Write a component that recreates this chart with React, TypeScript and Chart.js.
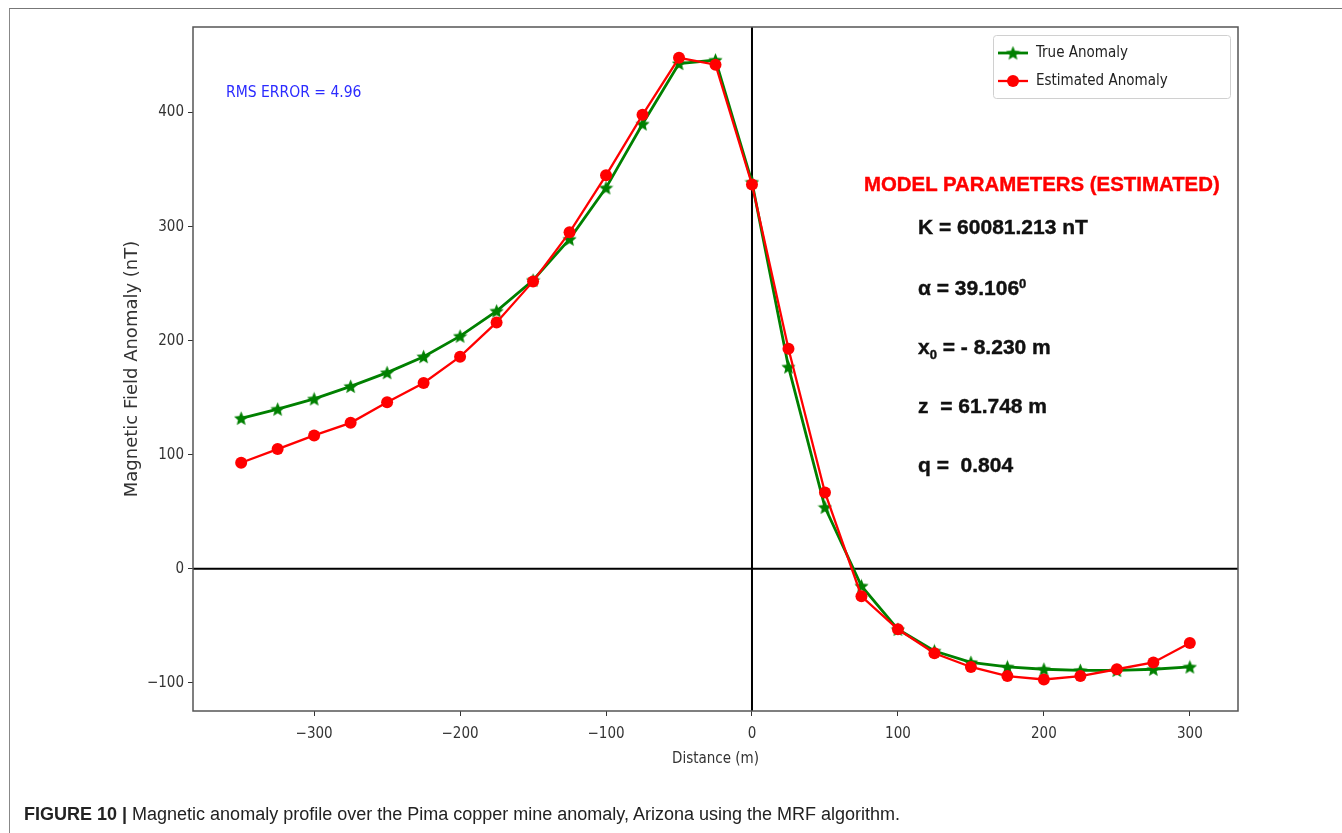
import React, { useEffect, useRef } from "react";
import { Chart, registerables } from "chart.js";

Chart.register(...registerables);

// ---------- data ----------
const distances = [
  -350, -325, -300, -275, -250, -225, -200, -175, -150, -125, -100, -75, -50, -25,
  0, 25, 50, 75, 100, 125, 150, 175, 200, 225, 250, 275, 300,
];
const trueAnomaly = [
  132, 140, 149, 160, 172, 186, 204, 226, 253, 289, 334, 390, 443, 446,
  339, 177, 54, -15, -53, -72, -82, -86, -88, -89, -89, -88, -86,
];
const estimatedAnomaly = [
  93, 105, 117, 128, 146, 163, 186, 216, 252, 295, 345, 398, 448, 442,
  337, 193, 67, -24, -53, -74, -86, -94, -97, -94, -88, -82, -65,
];
const xTicks = [-300, -200, -100, 0, 100, 200, 300];
const yTicks = [-100, 0, 100, 200, 300, 400];
const seriesLabels = ["True Anomaly", "Estimated Anomaly"];
const seriesColors = ["#008000", "#ff0000"];
const xRange = [-383, 333];
const yRange = [-124.6, 475];

const condensed = "'DejaVu Sans Condensed', 'DejaVu Sans', sans-serif";
const dejavu = "'DejaVu Sans', sans-serif";
const arial = "'Liberation Sans', Arial, sans-serif";

function makeStar(color: string, size: number): HTMLCanvasElement {
  const c = document.createElement("canvas");
  c.width = size;
  c.height = size;
  const ctx = c.getContext("2d")!;
  const cx = size / 2;
  const cy = size / 2 + 0.6;
  const R = size / 2;
  const r = R * 0.45;
  ctx.beginPath();
  for (let i = 0; i < 10; i++) {
    const rad = i % 2 === 0 ? R : r;
    const a = -Math.PI / 2 + (i * Math.PI) / 5;
    const px = cx + rad * Math.cos(a);
    const py = cy + rad * Math.sin(a);
    if (i === 0) ctx.moveTo(px, py);
    else ctx.lineTo(px, py);
  }
  ctx.closePath();
  ctx.fillStyle = color;
  ctx.fill();
  return c;
}

const minus = (v: number | string) => String(v).replace("-", "\u2212");

export default function App() {
  const ref = useRef<HTMLCanvasElement | null>(null);

  useEffect(() => {
    if (!ref.current) return;
    const star = makeStar(seriesColors[0], 15);

    const decor = {
      id: "decor",
      beforeDatasetsDraw(chart: any) {
        const { ctx, chartArea: a, scales } = chart;
        const x0 = scales.x.getPixelForValue(0);
        const y0 = scales.y.getPixelForValue(0);
        ctx.save();
        ctx.strokeStyle = "#000";
        ctx.lineWidth = 2;
        ctx.beginPath();
        ctx.moveTo(x0, a.top);
        ctx.lineTo(x0, a.bottom);
        ctx.moveTo(a.left, y0);
        ctx.lineTo(a.right, y0);
        ctx.stroke();
        ctx.restore();
      },
      afterDraw(chart: any) {
        const { ctx, chartArea: a } = chart;
        ctx.save();
        ctx.strokeStyle = "#555";
        ctx.lineWidth = 1.5;
        ctx.strokeRect(a.left, a.top, a.right - a.left, a.bottom - a.top);

        // legend
        const bx = 993.5, by = 35.5, bw = 237, bh = 63;
        ctx.beginPath();
        ctx.roundRect(bx, by, bw, bh, 3);
        ctx.fillStyle = "rgba(255,255,255,0.9)";
        ctx.fill();
        ctx.strokeStyle = "#d0d0d0";
        ctx.lineWidth = 1;
        ctx.stroke();
        const rows = [53, 81];
        chart.data.datasets.forEach((ds: any, i: number) => {
          const y = rows[i];
          ctx.strokeStyle = ds.borderColor;
          ctx.lineWidth = ds.borderWidth;
          ctx.beginPath();
          ctx.moveTo(998, y);
          ctx.lineTo(1028, y);
          ctx.stroke();
          if (i === 0) {
            ctx.drawImage(star, 1013 - 7.5, y - 7.5, 15, 15);
          } else {
            ctx.beginPath();
            ctx.arc(1013, y, 6, 0, Math.PI * 2);
            ctx.fillStyle = ds.backgroundColor;
            ctx.fill();
          }
          ctx.fillStyle = "#222";
          ctx.font = `15px ${condensed}`;
          ctx.textBaseline = "middle";
          ctx.textAlign = "left";
          ctx.fillText(ds.label, 1036, y);
        });
        ctx.restore();
      },
    };

    const chart = new Chart(ref.current, {
      type: "line",
      data: {
        datasets: [
          {
            label: seriesLabels[0],
            data: distances.map((x, i) => ({ x, y: trueAnomaly[i] })),
            borderColor: seriesColors[0],
            backgroundColor: seriesColors[0],
            borderWidth: 2.8,
            pointStyle: star as any,
            pointRadius: 7,
            order: 1,
          },
          {
            label: seriesLabels[1],
            data: distances.map((x, i) => ({ x, y: estimatedAnomaly[i] })),
            borderColor: seriesColors[1],
            backgroundColor: seriesColors[1],
            borderWidth: 2.3,
            pointStyle: "circle",
            pointRadius: 6,
            pointBorderWidth: 0,
            order: 0,
          },
        ],
      },
      options: {
        responsive: false,
        animation: false,
        events: [],
        layout: { padding: { left: 0, right: 104, top: 27, bottom: 0 } },
        plugins: {
          legend: { display: false },
          tooltip: { enabled: false },
        },
        scales: {
          x: {
            type: "linear",
            min: xRange[0],
            max: xRange[1],
            afterFit(s: any) {
              s.height = 122;
            },
            afterBuildTicks(s: any) {
              s.ticks = xTicks.map((v) => ({ value: v }));
            },
            grid: {
              display: true,
              drawOnChartArea: false,
              drawTicks: true,
              tickLength: 5,
              color: "#333",
              lineWidth: 1,
            },
            border: { display: false },
            ticks: {
              autoSkip: false,
              maxRotation: 0,
              padding: 9,
              color: "#333",
              font: { family: condensed, size: 15 },
              callback: (v: any) => minus(v),
            },
            title: {
              display: true,
              text: "Distance (m)",
              color: "#333",
              font: { family: condensed, size: 15 },
              padding: { top: 0, bottom: 65 },
            },
          },
          y: {
            type: "linear",
            min: yRange[0],
            max: yRange[1],
            afterFit(s: any) {
              s.width = 193;
            },
            afterBuildTicks(s: any) {
              s.ticks = yTicks.map((v) => ({ value: v }));
            },
            grid: {
              display: true,
              drawOnChartArea: false,
              drawTicks: true,
              tickLength: 5,
              color: "#333",
              lineWidth: 1,
            },
            border: { display: false },
            ticks: {
              autoSkip: false,
              padding: 4,
              color: "#333",
              font: { family: condensed, size: 15 },
              callback: (v: any) => minus(v),
            },
            title: {
              display: true,
              text: "Magnetic Field Anomaly (nT)",
              color: "#333",
              font: { family: dejavu, size: 18 },
              padding: { top: 122, bottom: 0 },
            },
          },
        },
      },
      plugins: [decor],
    } as any);
    return () => chart.destroy();
  }, []);

  const param: React.CSSProperties = {
    position: "absolute",
    left: 918,
    fontFamily: arial,
    fontWeight: 700,
    fontSize: 21,
    lineHeight: "21px",
    color: "#111",
    whiteSpace: "pre",
    WebkitTextStroke: "0.4px currentColor",
  };

  return (
    <div style={{ position: "absolute", left: 0, top: 0, width: 1342, height: 833, background: "#fff", overflow: "hidden" }}>
      <div
        style={{
          position: "absolute",
          left: 9,
          top: 8,
          width: 1333,
          height: 825,
          borderTop: "1.5px solid #777",
          borderLeft: "1px solid #888",
        }}
      />
      <canvas ref={ref} width={1342} height={833} style={{ position: "absolute", left: 0, top: 0 }} />
      <div
        style={{
          position: "absolute",
          left: 226,
          top: 84,
          fontFamily: condensed,
          fontSize: 15.5,
          lineHeight: "17px",
          color: "#2b2bff",
          whiteSpace: "pre",
        }}
      >
        RMS ERROR = 4.96
      </div>
      <div style={{ ...param, left: 864, top: 174, fontSize: 20.4, color: "#ff0000" }}>MODEL PARAMETERS (ESTIMATED)</div>
      <div style={{ ...param, top: 216 }}>K = 60081.213 nT</div>
      <div style={{ ...param, top: 277 }}>
        α = 39.106<sup style={{ fontSize: 13, verticalAlign: "7px", lineHeight: 0 }}>0</sup>
      </div>
      <div style={{ ...param, top: 336 }}>
        x<sub style={{ fontSize: 13, verticalAlign: "-5px", lineHeight: 0 }}>0</sub> = - 8.230 m
      </div>
      <div style={{ ...param, top: 395 }}>z  = 61.748 m</div>
      <div style={{ ...param, top: 454 }}>q =  0.804</div>
      <div
        style={{
          position: "absolute",
          left: 24,
          top: 804,
          fontFamily: arial,
          fontSize: 18,
          lineHeight: "20px",
          color: "#222",
          whiteSpace: "pre",
        }}
      >
        <b>FIGURE 10 | </b>Magnetic anomaly profile over the Pima copper mine anomaly, Arizona using the MRF algorithm.
      </div>
    </div>
  );
}
